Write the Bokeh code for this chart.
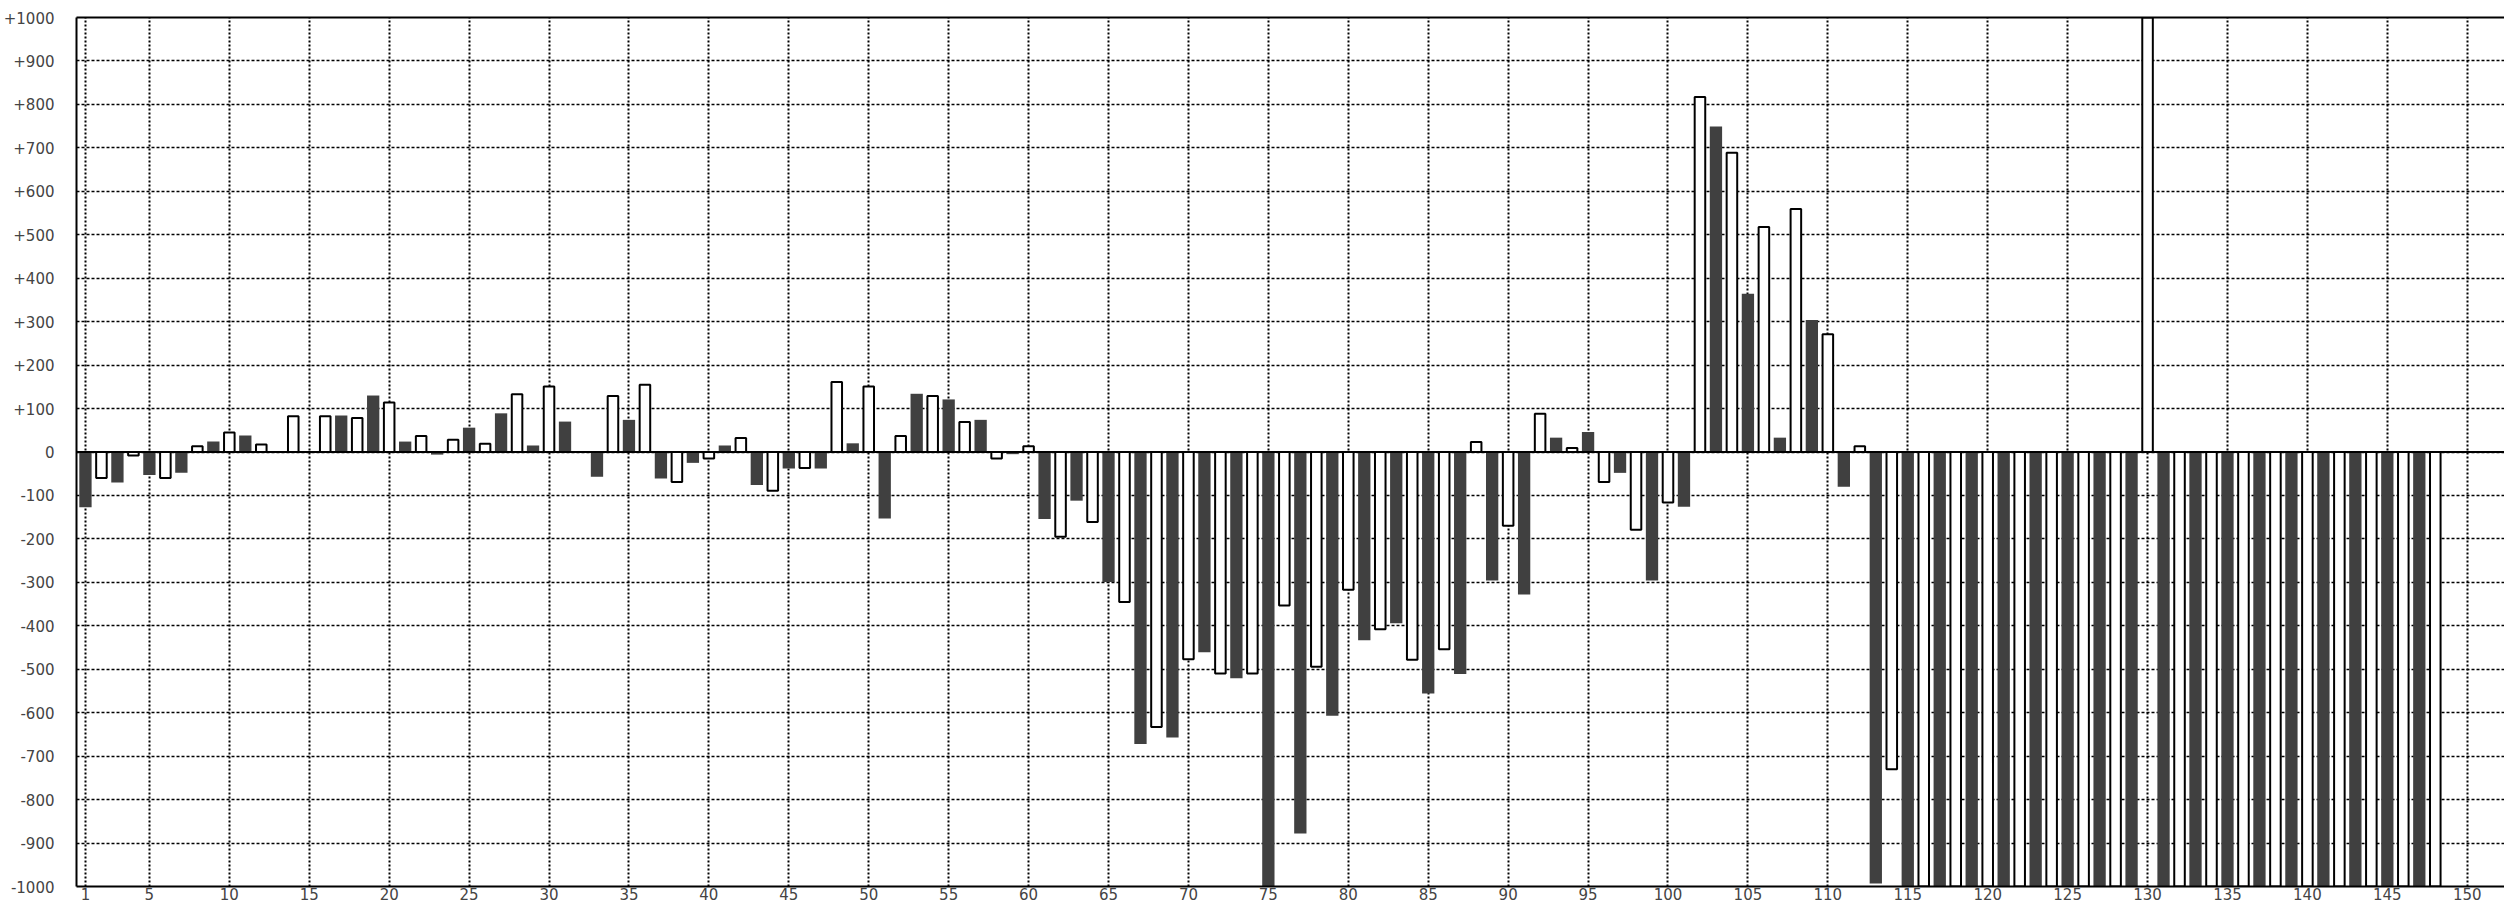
from bokeh.plotting import figure
from bokeh.models import FixedTicker, LinearAxis, Span, Range1d
from bokeh.embed import file_html
from bokeh.resources import INLINE

# machine numbers 1..148 and their values
machines = list(range(1, 149))
values = [
    -127, -60, -70, -8, -53, -60, -48, 13, 24, 45,
    38, 17, 0, 82, 0, 82, 84, 78, 130, 114,
    24, 37, -6, 28, 56, 19, 89, 133, 15, 151,
    70, 0, -57, 129, 74, 155, -61, -69, -25, -15,
    15, 32, -76, -89, -38, -37, -38, 161, 20, 151,
    -153, 37, 134, 129, 121, 69, 74, -15, -5, 13,
    -154, -195, -112, -161, -299, -345, -672, -633, -657, -477,
    -461, -510, -521, -510, -1000, -353, -878, -494, -607, -317,
    -433, -408, -394, -478, -556, -454, -511, 23, -296, -170,
    -328, 88, 33, 9, 46, -69, -48, -179, -296, -116,
    -126, 817, 749, 689, 364, 518, 33, 559, 304, 271,
    -80, 13, -993, -730, -1000, -1000, -1000, -1000, -1000, -1000,
    -1000, -1000, -1000, -1000, -1000, -1000, -1000, -1000, -1000, 1000,
    -1000, -1000, -1000, -1000, -1000, -1000, -1000, -1000, -1000, -1000,
    -1000, -1000, -1000, -1000, -1000, -1000, -1000, -1000,
]

x_ticks = [1] + list(range(5, 151, 5))
y_ticks = list(range(-1000, 1001, 100))
y_labels = ["+%d" % v if v > 0 else ("0" if v == 0 else "-%d" % (-v)) for v in y_ticks]

odd_x = [m for m in machines if m % 2 == 1]
odd_v = [v for m, v in zip(machines, values) if m % 2 == 1]
even_x = [m for m in machines if m % 2 == 0]
even_v = [v for m, v in zip(machines, values) if m % 2 == 0]

p = figure(width=2504, height=908,
           x_range=Range1d(0.44, 152.33), y_range=Range1d(-1000, 1000),
           output_backend="svg", toolbar_location=None,
           min_border_left=73, min_border_right=0, min_border_top=17, min_border_bottom=22)
p.outline_line_color = None
p.background_fill_color = "white"
p.border_fill_color = "white"

p.vbar(x=odd_x, top=odd_v, bottom=0, width=0.77, fill_color="#404040", line_color=None)
p.vbar(x=even_x, top=even_v, bottom=0, width=0.66, fill_color="white",
       line_color="black", line_width=2)

p.add_layout(Span(location=0, dimension="width", line_color="black", line_width=2))

# axes
for ax in p.xaxis:
    ax.ticker = FixedTicker(ticks=x_ticks)
    ax.major_tick_out = 0
    ax.major_tick_in = 0
    ax.minor_tick_out = 0
    ax.minor_tick_in = 0
    ax.axis_line_width = 2
    ax.axis_line_color = "black"
    ax.major_label_text_font = "DejaVu Sans"
    ax.major_label_text_font_size = "15px"
    ax.major_label_text_color = "#444444"
    ax.major_label_standoff = 1

for ax in p.yaxis:
    ax.ticker = FixedTicker(ticks=y_ticks)
    ax.major_label_overrides = {v: s for v, s in zip(y_ticks, y_labels)}
    ax.major_tick_out = 0
    ax.major_tick_in = 0
    ax.minor_tick_out = 0
    ax.minor_tick_in = 0
    ax.axis_line_width = 2
    ax.axis_line_color = "black"
    ax.major_label_text_font = "DejaVu Sans"
    ax.major_label_text_font_size = "15px"
    ax.major_label_text_color = "#444444"
    ax.major_label_standoff = 22

top_axis = LinearAxis(ticker=FixedTicker(ticks=[]), major_label_text_font_size="0px",
                      major_tick_out=0, major_tick_in=0, minor_tick_out=0, minor_tick_in=0,
                      axis_line_width=2, axis_line_color="black")
p.add_layout(top_axis, "above")

# grids
p.xgrid.ticker = FixedTicker(ticks=x_ticks)
p.xgrid.grid_line_color = "black"
p.xgrid.grid_line_width = 2
p.xgrid.grid_line_dash = "2 2"
p.xgrid.grid_line_alpha = 1.0

p.ygrid.ticker = FixedTicker(ticks=y_ticks)
p.ygrid.grid_line_color = "black"
p.ygrid.grid_line_width = 1.5
p.ygrid.grid_line_dash = "3 2"
p.ygrid.grid_line_alpha = 1.0

open("out.html", "w").write(file_html(p, INLINE))
